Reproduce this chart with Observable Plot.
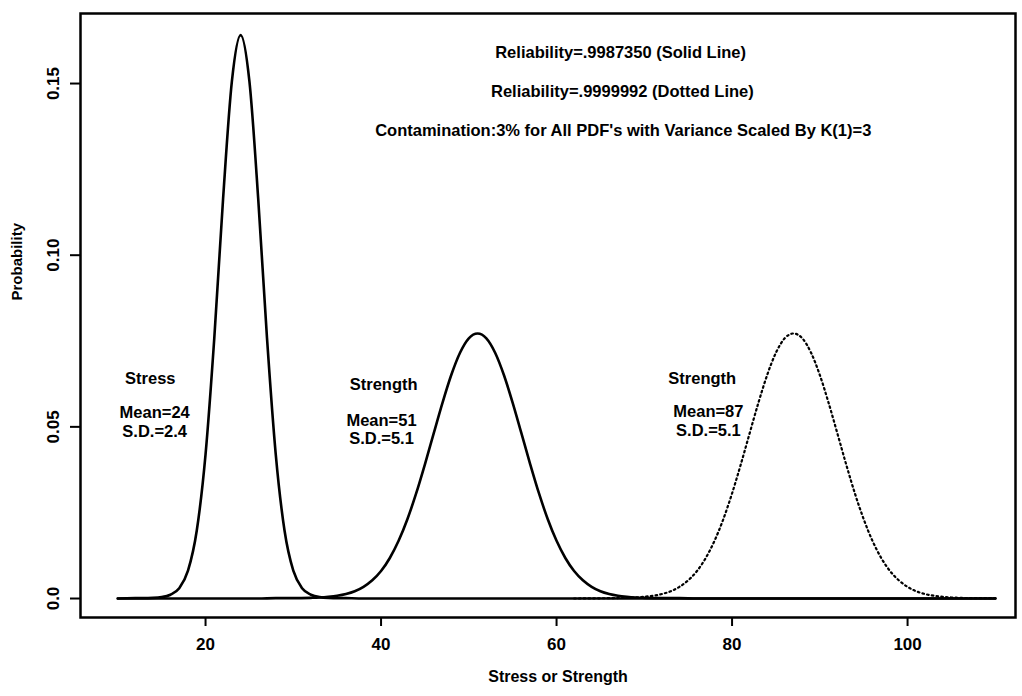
<!DOCTYPE html>
<html><head><meta charset="utf-8">
<script src="https://cdn.jsdelivr.net/npm/d3@7"></script>
<script src="https://cdn.jsdelivr.net/npm/@observablehq/plot@0.6"></script>
<style>html,body{margin:0;padding:0;background:#fff}svg{display:block}</style>
</head><body><div id="chart"></div>
<script>
// Stress PDF (solid), mean 24, s.d. 2.4
const stressX = [10,12,14,15,16,17,18,19,20,21,22,23,24,25,26,27,28,29,30,31,32,33,34,36,38,110];
const stressY = [0,0.0001,0.0002,0.0004,0.0011,0.0030,0.0081,0.0198,0.0420,0.0760,0.1165,0.1506,0.1641,0.1506,0.1165,0.0760,0.0420,0.0198,0.0081,0.0030,0.0011,0.0004,0.0002,0.0001,0,0];

// Strength PDF (solid), mean 51, s.d. 5.1
const strengthX = [10,26,28,30,32,33,34,35,36,37,38,39,40,41,42,43,44,45,46,47,48,49,50,51,52,53,54,55,56,57,58,59,60,61,62,63,64,65,66,67,68,69,70,72,74,76,110];
const strengthY = [0,0,0.0001,0.0001,0.0002,0.0003,0.0005,0.0008,0.0013,0.0021,0.0034,0.0053,0.0080,0.0118,0.0168,0.0231,0.0306,0.0391,0.0481,0.0570,0.0651,0.0716,0.0758,0.0772,0.0758,0.0716,0.0651,0.0570,0.0481,0.0391,0.0306,0.0231,0.0168,0.0118,0.0080,0.0053,0.0034,0.0021,0.0013,0.0008,0.0005,0.0003,0.0002,0.0001,0.0001,0,0];

// Strength PDF (dotted), mean 87, s.d. 5.1
const dottedX = [62,66,68,69,70,71,72,73,74,75,76,77,78,79,80,81,82,83,84,85,86,87,88,89,90,91,92,93,94,95,96,97,98,99,100,101,102,103,104,105,106,108,110];
const dottedY = [0,0.0001,0.0002,0.0003,0.0005,0.0008,0.0013,0.0021,0.0034,0.0053,0.0080,0.0118,0.0168,0.0231,0.0306,0.0391,0.0481,0.0570,0.0651,0.0716,0.0758,0.0772,0.0758,0.0716,0.0651,0.0570,0.0481,0.0391,0.0306,0.0231,0.0168,0.0118,0.0080,0.0053,0.0034,0.0021,0.0013,0.0008,0.0005,0.0003,0.0002,0.0001,0.0001];

const xTicks = [20,40,60,80,100];
const yTicks = [0,0.05,0.10,0.15];
const yTickLabels = ["0.0","0.05","0.10","0.15"];

const noteTexts = ["Reliability=.9987350 (Solid Line)","Reliability=.9999992 (Dotted Line)","Contamination:3% for All PDF's with Variance Scaled By K(1)=3"];
const noteX = [67.3,67.5,67.6];
const noteY = [0.1590,0.1477,0.1363];

const labelTexts = ["Stress","Mean=24","S.D.=2.4","Strength","Mean=51","S.D.=5.1","Strength","Mean=87","S.D.=5.1"];
const labelX = [13.7,14.2,14.2,40.3,40.05,40.05,76.6,77.3,77.3];
const labelY = [0.0641,0.0542,0.0486,0.0623,0.0518,0.0466,0.0641,0.0545,0.0489];

const yLabelMap = new Map(yTicks.map((d,i)=>[d,yTickLabels[i]]));
const font = "'Liberation Sans', Arial, Helvetica, sans-serif";

const plot = Plot.plot({
  width: 1022, height: 696,
  marginLeft: 80, marginRight: 7, marginTop: 13, marginBottom: 79,
  x: {domain: [5.75, 112.3]},
  y: {domain: [-0.00553, 0.1704]},
  style: {fontFamily: font, fontWeight: "bold", background: "white", color: "black"},
  marks: [
    Plot.frame({stroke: "black", strokeWidth: 2.5}),
    Plot.axisX({ticks: xTicks, tickSize: 9, tickPadding: 11, fontSize: 17, fontWeight: "bold", label: null, strokeWidth: 2, tickFormat: d => String(d)}),
    Plot.axisY({ticks: yTicks, tickSize: 10, tickPadding: 12, fontSize: 17, fontWeight: "bold", label: null, strokeWidth: 2,
      tickFormat: d => yLabelMap.get(d), tickRotate: -90, textAnchor: "middle", lineAnchor: "bottom"}),
    Plot.text(["Stress or Strength"], {frameAnchor: "bottom", dx: 10, dy: 64, fontSize: 16, fontWeight: "bold"}),
    Plot.text(["Probability"], {frameAnchor: "left", rotate: -90, dx: -63, dy: -15, fontSize: 15, fontWeight: "bold"}),
    Plot.line(stressY, {x: stressX, y: stressY, curve: "monotone-x", stroke: "black", strokeWidth: 2.6}),
    Plot.line(strengthY, {x: strengthX, y: strengthY, curve: "monotone-x", stroke: "black", strokeWidth: 2.6}),
    Plot.line(dottedY, {x: dottedX, y: dottedY, curve: "monotone-x", stroke: "black", strokeWidth: 2.2, strokeDasharray: "1.6,3.2", strokeLinecap: "round"}),
    Plot.text(noteTexts, {x: noteX, y: noteY, text: d => d, fontSize: 16.5, fontWeight: "bold"}),
    Plot.text(labelTexts, {x: labelX, y: labelY, text: d => d, fontSize: 16.5, fontWeight: "bold"})
  ]
});
document.getElementById("chart").appendChild(plot);
</script>
</body></html>
